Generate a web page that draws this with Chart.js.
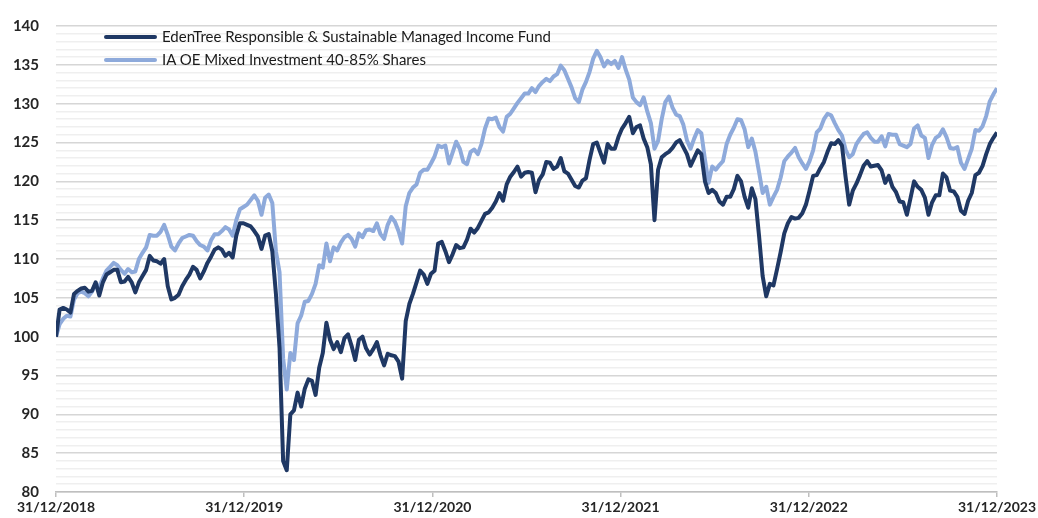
<!DOCTYPE html>
<html lang="en">
<head>
    <meta charset="UTF-8">
    <title>Fund vs sector</title>
    <script src="https://cdn.jsdelivr.net/npm/chart.js@4.4.1/dist/chart.umd.min.js"></script>
    <style>
        body { margin: 0; background: #fff; }
        .wrap { position: relative; width: 1038px; height: 518px; }
        .legend { position: absolute; left: 104px; top: 26px; font-family: Lato, "Liberation Sans", sans-serif; font-size: 15px; color: #1a1a1a; }
        .legend div { height: 23px; line-height: 20px; white-space: nowrap; }
        .legend span { display: inline-block; width: 53px; height: 4px; border-radius: 2px; vertical-align: middle; margin-right: 5px; margin-top: -3px; }
    </style>
</head>
<body>
<div class="wrap">
    <canvas id="myChart" width="1038" height="518"></canvas>
    <div class="legend">
        <div><span style="background:#1f3864"></span>EdenTree Responsible &amp; Sustainable Managed Income Fund</div>
        <div><span style="background:#8eaadb"></span>IA OE Mixed Investment 40-85% Shares</div>
    </div>
</div>
<script>
    // weekly values, 31/12/2018 -> 31/12/2023
    var fundName = 'EdenTree Responsible & Sustainable Managed Income Fund';
    var sectorName = 'IA OE Mixed Investment 40-85% Shares';
    var dateLabels = ['31/12/2018', '31/12/2019', '31/12/2020', '31/12/2021', '31/12/2022', '31/12/2023'];
    var yearWeeks = [0, 52.2, 104.4, 156.6, 208.8, 261];

    var fundValues = [
        100, 103.5, 103.7, 103.5, 103.1, 105.5, 105.9, 106.2, 106.3, 105.8,
        105.9, 107, 105.3, 107, 108, 108.3, 108.6, 108.6, 107, 107.1,
        107.7, 107, 105.7, 107, 107.8, 108.6, 110.4, 109.8, 109.7, 109.4,
        110, 106.5, 104.8, 105, 105.4, 106.5, 107.3, 108, 109, 108.6,
        107.5, 108.4, 109.5, 110.3, 111.2, 111.5, 111.2, 110.4, 110.8, 110.2,
        113, 114.6, 114.6, 114.4, 114.2, 113.6, 112.9, 111.3, 113, 113.2,
        111, 105.5, 98.6, 84, 82.8, 90, 90.5, 92.8, 91, 93.3,
        94.5, 94.3, 92.5, 96, 97.9, 101.8, 99.6, 98.4, 99.3, 98,
        99.8, 100.3, 98.8, 97, 99.6, 100, 98.5, 97.7, 98.4, 99.3,
        97.6, 96.3, 97.8, 97.6, 97.5, 96.8, 94.6, 102, 104.2, 105.5,
        107, 108.5, 108, 106.8, 108.1, 108.5, 112, 112.2, 111, 109.6,
        110.6, 111.8, 111.4, 111.5, 112.5, 113.9, 113.4, 114, 114.9, 115.8,
        116, 116.6, 117.4, 118.5, 117.5, 119.6, 120.6, 121.2, 121.9, 120.6,
        121.1, 121.2, 121.1, 118.6, 120.2, 120.9, 122.5, 122.4, 121.6, 121.9,
        123, 121.3, 121, 120.2, 119.4, 119.2, 120.1, 120.4, 122.8, 124.8,
        125, 123.7, 122.4, 124.8, 124.2, 124.2, 125.7, 126.8, 127.5, 128.3,
        126.2, 127, 127.2, 125.5, 124.4, 122.2, 115, 121.5, 123.1, 123.5,
        123.8, 124.3, 125, 125.3, 124.4, 123.5, 122, 123, 124, 123.5,
        120, 118.5, 118.9, 118.5, 117.4, 117, 118, 118, 119, 120.7,
        120, 118, 116.6, 119.1, 117.7, 113, 107.8, 105.2, 106.8, 106.6,
        108.7, 110.9, 113.3, 114.6, 115.4, 115.2, 115.3, 115.9, 117, 118.8,
        120.7, 120.8, 121.7, 122.5, 123.8, 124.9, 124.8, 125.3, 124.6, 120.6,
        117, 118.8, 119.7, 120.8, 122, 122.6, 121.9, 122, 122.1, 121.4,
        119.8, 120.7, 119.3, 118.6, 117.4, 117.3, 115.7, 117.8, 120, 119.3,
        118.9, 117.9, 115.7, 117.3, 118.2, 118.2, 121, 120.5, 118.8, 118.7,
        118, 116.2, 115.8, 117.5, 118.5, 120.8, 121.1, 122, 123.5, 124.8,
        125.6, 126.3
    ];

    var sectorValues = [
        100, 101.6, 102.3, 102.7, 102.6, 104.8, 105.6, 105.8, 105.6, 105.2,
        105.8, 106.8, 106.4, 107.5, 108.5, 109, 109.5, 109.2, 108.6, 108.1,
        108.7, 108.3, 108.4, 110, 110.8, 111.5, 113.1, 113, 113, 113.5,
        114.4, 113.1, 111.6, 111.1, 112, 112.7, 112.9, 113.1, 113, 112.3,
        111.8, 111.6, 111.1, 112.4, 113.2, 113.2, 113.6, 114.1, 113.8, 113,
        115, 116.4, 116.7, 117, 117.6, 118.2, 117.5, 115.7, 117.9, 118.3,
        117.2, 111, 108.3, 97.2, 93.2, 97.9, 97, 101.7, 102.7, 104.5,
        104.6, 105.5, 106.8, 109.2, 108.9, 112, 109.7, 111.5, 111.1, 112.1,
        112.8, 113.1, 112.6, 111.6, 113.3, 112.8, 113.7, 113.8, 113.6, 114.6,
        113.2, 112.6, 114.4, 115.4, 114.8, 113.6, 112, 116.8, 118.5, 119.2,
        119.6, 121.1, 121.5, 121.5, 122.3, 123.2, 124.6, 124.4, 124.6, 122.3,
        123.7, 125.1, 124.2, 122.5, 122.2, 123.8, 124.1, 123.5, 124.8, 126.8,
        128.1, 128, 128.2, 127, 126.4, 128.3, 128.7, 129.4, 130.1, 130.7,
        131.3, 131.3, 132, 131.5, 132.3, 132.8, 133.2, 132.9, 133.5, 133.8,
        134.9, 134.3, 133.2, 132.1, 130.7, 130.2, 131.8, 132.8, 134.1, 135.8,
        136.8, 136, 134.8, 135.5, 135.1, 135.5, 134.6, 136, 134.4, 133.1,
        130.8, 130.2, 129.8, 130.8, 129, 127.5, 124.2, 125.2, 128, 130.2,
        130.9, 129.5, 128.6, 128.4, 127.3, 125.3, 124.2, 125.5, 126.6, 126.2,
        122.8, 119.8, 121.9, 121.5, 122.1, 122.6, 124.8, 126, 126.9, 128,
        127.9, 126.7, 124.4, 125.5, 123.8, 121.2, 118.5, 119.3, 117, 118,
        118.9, 120.5, 122.6, 123.2, 123.7, 124.3, 123.1, 122.3, 121.6, 122.6,
        124, 126.3, 126.8, 128, 128.7, 128.5, 127.5, 126.6, 125.9, 124.1,
        123.1, 123.5, 124.8, 125.5, 126.1, 126.3, 125.6, 125.1, 125.1, 125.8,
        124.5, 126.1, 126, 126, 124.8, 124.6, 124.4, 124.8, 126.8, 127.2,
        125.9, 125.6, 123, 124.7, 125.6, 125.9, 126.7, 125.7, 124.3, 124.2,
        124.4, 122.4, 121.6, 122.9, 124.2, 126.6, 126.5, 127.1, 128.4, 130.3,
        131.2, 132
    ];

    function toPoints(arr) {
        return arr.map(function (v, i) { return { x: i, y: v }; });
    }

    var font = 'Lato, "Liberation Sans", sans-serif';
    var ctx = document.querySelector('#myChart').getContext('2d');
    new Chart(ctx, {
        type: 'line',
        data: {
            datasets: [{
                label: fundName,
                data: toPoints(fundValues),
                borderColor: '#1f3864',
                borderWidth: 4,
                pointRadius: 0,
                tension: 0,
                borderJoinStyle: 'round'
            }, {
                label: sectorName,
                data: toPoints(sectorValues),
                borderColor: '#8eaadb',
                borderWidth: 4,
                pointRadius: 0,
                tension: 0,
                borderJoinStyle: 'round'
            }]
        },
        options: {
            responsive: false,
            animation: false,
            layout: { padding: { top: 16, right: 40, left: 0, bottom: 0 } },
            plugins: { legend: { display: false }, tooltip: { enabled: false } },
            scales: {
                x: {
                    type: 'linear',
                    min: 0,
                    max: 261,
                    afterBuildTicks: function (scale) {
                        scale.ticks = yearWeeks.map(function (w) { return { value: w }; });
                    },
                    afterFit: function (scale) { scale.height = 25; },
                    ticks: {
                        autoSkip: false,
                        maxRotation: 0,
                        padding: 2,
                        color: '#262626',
                        font: { family: font, size: 14, weight: 'bold' },
                        callback: function (value, index) { return dateLabels[index]; }
                    },
                    grid: { drawOnChartArea: false, drawTicks: true, tickLength: 5, tickColor: '#bfbfbf', lineWidth: 1.5 },
                    border: { color: '#bfbfbf', width: 1.5 }
                },
                y: {
                    min: 80,
                    max: 140,
                    afterFit: function (scale) { scale.width = 56; },
                    ticks: {
                        stepSize: 1,
                        autoSkip: false,
                        padding: 17,
                        color: '#262626',
                        font: { family: font, size: 15, weight: 'bold' },
                        callback: function (value) { return value % 5 === 0 ? value : ''; }
                    },
                    grid: {
                        drawTicks: false,
                        lineWidth: 1.5,
                        color: function (c) { return c.tick.value % 5 === 0 ? '#d6d6d6' : '#efefef'; }
                    },
                    border: { display: false }
                }
            }
        }
    });
</script>
</body>
</html>
